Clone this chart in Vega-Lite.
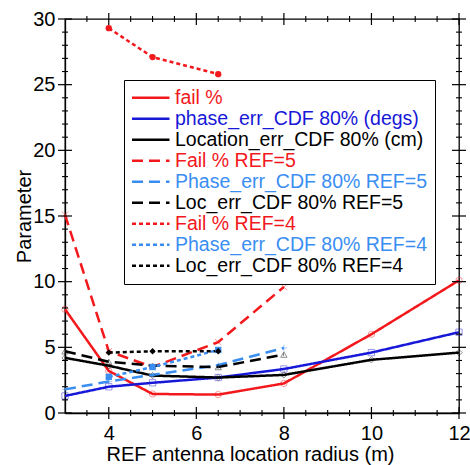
{
  "$schema": "https://vega.github.io/schema/vega-lite/v6.json",
  "width": 394,
  "height": 394,
  "autosize": "none",
  "padding": {"left": 65, "top": 19, "right": 11, "bottom": 52},
  "background": "white",
  "config": {
    "font": "Liberation Sans",
    "view": {"stroke": "black", "strokeWidth": 1.3},
    "axis": {
      "grid": false,
      "ticks": false,
      "domainColor": "black",
      "domainWidth": 1.3,
      "labelColor": "black",
      "labelFont": "Liberation Sans",
      "labelFontSize": 20,
      "titleFont": "Liberation Sans",
      "titleFontSize": 20,
      "titleFontWeight": "normal",
      "titleColor": "black"
    },
    "legend": {
      "labelFont": "Liberation Sans",
      "labelFontSize": 19.5
    }
  },
  "datasets": {
    "series": [
      {"series": "fail %", "x": 3, "y": 7.9},
      {"series": "fail %", "x": 4, "y": 3.2},
      {"series": "fail %", "x": 5, "y": 1.45},
      {"series": "fail %", "x": 6.5, "y": 1.4},
      {"series": "fail %", "x": 8, "y": 2.25},
      {"series": "fail %", "x": 10, "y": 6.0},
      {"series": "fail %", "x": 12, "y": 10.1},
      {"series": "phase_err_CDF 80% (degs)", "x": 3, "y": 1.3},
      {"series": "phase_err_CDF 80% (degs)", "x": 4, "y": 2.0},
      {"series": "phase_err_CDF 80% (degs)", "x": 5, "y": 2.3},
      {"series": "phase_err_CDF 80% (degs)", "x": 6.5, "y": 2.7},
      {"series": "phase_err_CDF 80% (degs)", "x": 8, "y": 3.35},
      {"series": "phase_err_CDF 80% (degs)", "x": 10, "y": 4.6},
      {"series": "phase_err_CDF 80% (degs)", "x": 12, "y": 6.15},
      {"series": "Location_err_CDF 80% (cm)", "x": 3, "y": 4.2},
      {"series": "Location_err_CDF 80% (cm)", "x": 4, "y": 3.6},
      {"series": "Location_err_CDF 80% (cm)", "x": 5, "y": 2.85},
      {"series": "Location_err_CDF 80% (cm)", "x": 6.5, "y": 2.7},
      {"series": "Location_err_CDF 80% (cm)", "x": 8, "y": 2.9},
      {"series": "Location_err_CDF 80% (cm)", "x": 10, "y": 4.05},
      {"series": "Location_err_CDF 80% (cm)", "x": 12, "y": 4.6},
      {"series": "Fail % REF=5", "x": 3, "y": 15.1},
      {"series": "Fail % REF=5", "x": 4, "y": 4.7},
      {"series": "Fail % REF=5", "x": 5, "y": 3.5},
      {"series": "Fail % REF=5", "x": 6.5, "y": 5.4},
      {"series": "Fail % REF=5", "x": 8, "y": 9.6},
      {"series": "Phase_err_CDF 80% REF=5", "x": 3, "y": 1.8},
      {"series": "Phase_err_CDF 80% REF=5", "x": 4, "y": 2.4},
      {"series": "Phase_err_CDF 80% REF=5", "x": 5, "y": 2.9},
      {"series": "Phase_err_CDF 80% REF=5", "x": 6.5, "y": 3.65},
      {"series": "Phase_err_CDF 80% REF=5", "x": 8, "y": 4.95},
      {"series": "Loc_err_CDF 80% REF=5", "x": 3, "y": 4.7},
      {"series": "Loc_err_CDF 80% REF=5", "x": 4, "y": 3.9},
      {"series": "Loc_err_CDF 80% REF=5", "x": 5, "y": 3.6},
      {"series": "Loc_err_CDF 80% REF=5", "x": 6.5, "y": 3.5},
      {"series": "Loc_err_CDF 80% REF=5", "x": 8, "y": 4.45},
      {"series": "Fail % REF=4", "x": 4, "y": 29.3},
      {"series": "Fail % REF=4", "x": 5, "y": 27.1},
      {"series": "Fail % REF=4", "x": 6.5, "y": 25.8},
      {"series": "Phase_err_CDF 80% REF=4", "x": 4, "y": 2.75},
      {"series": "Phase_err_CDF 80% REF=4", "x": 5, "y": 3.5},
      {"series": "Phase_err_CDF 80% REF=4", "x": 6.5, "y": 4.8},
      {"series": "Loc_err_CDF 80% REF=4", "x": 4, "y": 4.6},
      {"series": "Loc_err_CDF 80% REF=4", "x": 5, "y": 4.7},
      {"series": "Loc_err_CDF 80% REF=4", "x": 6.5, "y": 4.7}
    ],
    "xmajor": [{"v": 4}, {"v": 6}, {"v": 8}, {"v": 10}, {"v": 12}],
    "xminor": [{"v": 3.5}, {"v": 4.5}, {"v": 5}, {"v": 5.5}, {"v": 6.5}, {"v": 7}, {"v": 7.5}, {"v": 8.5}, {"v": 9}, {"v": 9.5}, {"v": 10.5}, {"v": 11}, {"v": 11.5}],
    "ymajor": [{"v": 0}, {"v": 5}, {"v": 10}, {"v": 15}, {"v": 20}, {"v": 25}, {"v": 30}],
    "yminor": [{"v": 1}, {"v": 2}, {"v": 3}, {"v": 4}, {"v": 6}, {"v": 7}, {"v": 8}, {"v": 9}, {"v": 11}, {"v": 12}, {"v": 13}, {"v": 14}, {"v": 16}, {"v": 17}, {"v": 18}, {"v": 19}, {"v": 21}, {"v": 22}, {"v": 23}, {"v": 24}, {"v": 26}, {"v": 27}, {"v": 28}, {"v": 29}]
  },
  "layer": [
    {
      "data": {"name": "series"},
      "mark": {"type": "line", "strokeWidth": 2.5},
      "encoding": {
        "x": {
          "field": "x", "type": "quantitative",
          "scale": {"domain": [3, 12], "nice": false, "zero": false},
          "axis": {"orient": "bottom", "title": "REF antenna location radius (m)", "values": [4, 6, 8, 10, 12], "format": "d", "labelPadding": 10, "labelFlush": false, "titlePadding": 1, "titleX": 185}
        },
        "y": {
          "field": "y", "type": "quantitative",
          "scale": {"domain": [0, 30], "nice": false},
          "axis": {"orient": "left", "title": "Parameter", "values": [0, 5, 10, 15, 20, 25, 30], "format": "d", "labelPadding": 10, "labelFlush": false, "titleBaseline": "alphabetic", "titleX": -35}
        },
        "color": {
          "field": "series", "type": "nominal",
          "scale": {
            "domain": ["fail %", "phase_err_CDF 80% (degs)", "Location_err_CDF 80% (cm)", "Fail % REF=5", "Phase_err_CDF 80% REF=5", "Loc_err_CDF 80% REF=5", "Fail % REF=4", "Phase_err_CDF 80% REF=4", "Loc_err_CDF 80% REF=4"],
            "range": ["#f2181c", "#1818d8", "#000000", "#f2181c", "#3a8ef2", "#000000", "#f2181c", "#3a8ef2", "#000000"]
          },
          "legend": {
            "title": null,
            "orient": "none",
            "legendX": 59,
            "legendY": 61,
            "padding": 8,
            "strokeColor": "black",
            "fillColor": "white",
            "symbolType": "M-2.5,0L2.5,0",
            "symbolSize": 225,
            "symbolOffset": 9,
            "symbolStrokeWidth": 2.5,
            "labelOffset": 14.5,
            "rowPadding": 0,
            "labelLimit": 400,
            "encode": {
              "labels": {"update": {"fill": {"signal": "scale('color', datum.value)"}}}
            }
          }
        },
        "strokeDash": {
          "field": "series", "type": "nominal",
          "scale": {
            "domain": ["fail %", "phase_err_CDF 80% (degs)", "Location_err_CDF 80% (cm)", "Fail % REF=5", "Phase_err_CDF 80% REF=5", "Loc_err_CDF 80% REF=5", "Fail % REF=4", "Phase_err_CDF 80% REF=4", "Loc_err_CDF 80% REF=4"],
            "range": [[1, 0], [1, 0], [1, 0], [11, 6], [11, 6], [11, 6], [4, 3], [4, 3], [4, 3]]
          },
          "legend": {
            "title": null,
            "orient": "none",
            "legendX": 59,
            "legendY": 61,
            "padding": 8,
            "strokeColor": "black",
            "fillColor": "white",
            "symbolType": "M-2.5,0L2.5,0",
            "symbolSize": 225,
            "symbolOffset": 9,
            "symbolStrokeWidth": 2.5,
            "labelOffset": 14.5,
            "rowPadding": 0,
            "labelLimit": 400,
            "encode": {
              "labels": {"update": {"fill": {"signal": "scale('color', datum.value)"}}}
            }
          }
        }
      }
    },
    {
      "data": {"name": "series"},
      "transform": [{"filter": "indexof(datum.series, 'REF=4') < 0"}],
      "mark": {"type": "point", "filled": false, "strokeWidth": 1, "opacity": 0.45, "size": 40},
      "encoding": {
        "x": {"field": "x", "type": "quantitative", "scale": {"domain": [3, 12], "nice": false, "zero": false},
          "axis": {"orient": "bottom", "title": "REF antenna location radius (m)", "values": [4, 6, 8, 10, 12], "format": "d", "labelPadding": 10, "labelFlush": false, "titlePadding": 1, "titleX": 185}},
        "y": {"field": "y", "type": "quantitative", "scale": {"domain": [0, 30], "nice": false},
          "axis": {"orient": "left", "title": "Parameter", "values": [0, 5, 10, 15, 20, 25, 30], "format": "d", "labelPadding": 10, "labelFlush": false, "titleBaseline": "alphabetic", "titleX": -35}},
        "shape": {
          "field": "series", "type": "nominal",
          "scale": {
            "domain": ["Loc_err_CDF 80% REF=4", "Phase_err_CDF 80% REF=4", "Fail % REF=4", "Loc_err_CDF 80% REF=5", "Phase_err_CDF 80% REF=5", "Fail % REF=5", "Location_err_CDF 80% (cm)", "phase_err_CDF 80% (degs)", "fail %"],
            "range": ["diamond", "square", "circle", "triangle-up", "M-1,0L1,0M0,-1L0,1", "M-1,-1L1,1M-1,1L1,-1", "diamond", "square", "circle"]
          },
          "legend": null
        },
        "stroke": {
          "field": "series", "type": "nominal",
          "scale": {
            "domain": ["phase_err_CDF 80% (degs)", "fail %", "Location_err_CDF 80% (cm)", "Fail % REF=5", "Phase_err_CDF 80% REF=5", "Loc_err_CDF 80% REF=5"],
            "range": ["#1818d8", "#f2181c", "#000000", "#f2181c", "#3a8ef2", "#000000"]
          },
          "legend": null
        }
      }
    },
    {
      "data": {"name": "series"},
      "transform": [{"filter": "indexof(datum.series, 'REF=4') >= 0"}],
      "mark": {"type": "point", "filled": true, "opacity": 1, "size": 40},
      "encoding": {
        "x": {"field": "x", "type": "quantitative", "scale": {"domain": [3, 12], "nice": false, "zero": false},
          "axis": {"orient": "bottom", "title": "REF antenna location radius (m)", "values": [4, 6, 8, 10, 12], "format": "d", "labelPadding": 10, "labelFlush": false, "titlePadding": 1, "titleX": 185}},
        "y": {"field": "y", "type": "quantitative", "scale": {"domain": [0, 30], "nice": false},
          "axis": {"orient": "left", "title": "Parameter", "values": [0, 5, 10, 15, 20, 25, 30], "format": "d", "labelPadding": 10, "labelFlush": false, "titleBaseline": "alphabetic", "titleX": -35}},
        "shape": {"field": "series", "type": "nominal", "legend": null},
        "fill": {
          "field": "series", "type": "nominal",
          "scale": {
            "domain": ["Fail % REF=4", "Phase_err_CDF 80% REF=4", "Loc_err_CDF 80% REF=4"],
            "range": ["#f2181c", "#3a8ef2", "#000000"]
          },
          "legend": null
        }
      }
    },
    {
      "data": {"name": "xmajor"},
      "mark": {"type": "tick", "orient": "vertical", "size": 12, "thickness": 1.2, "color": "black", "opacity": 1},
      "encoding": {
        "x": {"field": "v", "type": "quantitative", "scale": {"domain": [3, 12], "nice": false, "zero": false},
          "axis": {"orient": "bottom", "title": "REF antenna location radius (m)", "values": [4, 6, 8, 10, 12], "format": "d", "labelPadding": 10, "labelFlush": false, "titlePadding": 1, "titleX": 185}},
        "y": {"datum": 0, "type": "quantitative", "scale": {"domain": [0, 30], "nice": false},
          "axis": {"orient": "left", "title": "Parameter", "values": [0, 5, 10, 15, 20, 25, 30], "format": "d", "labelPadding": 10, "labelFlush": false, "titleBaseline": "alphabetic", "titleX": -35}}
      }
    },
    {
      "data": {"name": "xmajor"},
      "mark": {"type": "tick", "orient": "vertical", "size": 12, "thickness": 1.2, "color": "black", "opacity": 1},
      "encoding": {
        "x": {"field": "v", "type": "quantitative", "scale": {"domain": [3, 12], "nice": false, "zero": false},
          "axis": {"orient": "bottom", "title": "REF antenna location radius (m)", "values": [4, 6, 8, 10, 12], "format": "d", "labelPadding": 10, "labelFlush": false, "titlePadding": 1, "titleX": 185}},
        "y": {"datum": 30, "type": "quantitative", "scale": {"domain": [0, 30], "nice": false},
          "axis": {"orient": "left", "title": "Parameter", "values": [0, 5, 10, 15, 20, 25, 30], "format": "d", "labelPadding": 10, "labelFlush": false, "titleBaseline": "alphabetic", "titleX": -35}}
      }
    },
    {
      "data": {"name": "xminor"},
      "mark": {"type": "tick", "orient": "vertical", "size": 6, "thickness": 1.1, "color": "black", "opacity": 1},
      "encoding": {
        "x": {"field": "v", "type": "quantitative", "scale": {"domain": [3, 12], "nice": false, "zero": false},
          "axis": {"orient": "bottom", "title": "REF antenna location radius (m)", "values": [4, 6, 8, 10, 12], "format": "d", "labelPadding": 10, "labelFlush": false, "titlePadding": 1, "titleX": 185}},
        "y": {"datum": 0, "type": "quantitative", "scale": {"domain": [0, 30], "nice": false},
          "axis": {"orient": "left", "title": "Parameter", "values": [0, 5, 10, 15, 20, 25, 30], "format": "d", "labelPadding": 10, "labelFlush": false, "titleBaseline": "alphabetic", "titleX": -35}}
      }
    },
    {
      "data": {"name": "xminor"},
      "mark": {"type": "tick", "orient": "vertical", "size": 6, "thickness": 1.1, "color": "black", "opacity": 1},
      "encoding": {
        "x": {"field": "v", "type": "quantitative", "scale": {"domain": [3, 12], "nice": false, "zero": false},
          "axis": {"orient": "bottom", "title": "REF antenna location radius (m)", "values": [4, 6, 8, 10, 12], "format": "d", "labelPadding": 10, "labelFlush": false, "titlePadding": 1, "titleX": 185}},
        "y": {"datum": 30, "type": "quantitative", "scale": {"domain": [0, 30], "nice": false},
          "axis": {"orient": "left", "title": "Parameter", "values": [0, 5, 10, 15, 20, 25, 30], "format": "d", "labelPadding": 10, "labelFlush": false, "titleBaseline": "alphabetic", "titleX": -35}}
      }
    },
    {
      "data": {"name": "ymajor"},
      "mark": {"type": "tick", "orient": "horizontal", "size": 14, "thickness": 1.2, "color": "black", "opacity": 1},
      "encoding": {
        "y": {"field": "v", "type": "quantitative", "scale": {"domain": [0, 30], "nice": false},
          "axis": {"orient": "left", "title": "Parameter", "values": [0, 5, 10, 15, 20, 25, 30], "format": "d", "labelPadding": 10, "labelFlush": false, "titleBaseline": "alphabetic", "titleX": -35}},
        "x": {"datum": 3, "type": "quantitative", "scale": {"domain": [3, 12], "nice": false, "zero": false},
          "axis": {"orient": "bottom", "title": "REF antenna location radius (m)", "values": [4, 6, 8, 10, 12], "format": "d", "labelPadding": 10, "labelFlush": false, "titlePadding": 1, "titleX": 185}}
      }
    },
    {
      "data": {"name": "ymajor"},
      "mark": {"type": "tick", "orient": "horizontal", "size": 14, "thickness": 1.2, "color": "black", "opacity": 1},
      "encoding": {
        "y": {"field": "v", "type": "quantitative", "scale": {"domain": [0, 30], "nice": false},
          "axis": {"orient": "left", "title": "Parameter", "values": [0, 5, 10, 15, 20, 25, 30], "format": "d", "labelPadding": 10, "labelFlush": false, "titleBaseline": "alphabetic", "titleX": -35}},
        "x": {"datum": 12, "type": "quantitative", "scale": {"domain": [3, 12], "nice": false, "zero": false},
          "axis": {"orient": "bottom", "title": "REF antenna location radius (m)", "values": [4, 6, 8, 10, 12], "format": "d", "labelPadding": 10, "labelFlush": false, "titlePadding": 1, "titleX": 185}}
      }
    },
    {
      "data": {"name": "yminor"},
      "mark": {"type": "tick", "orient": "horizontal", "size": 6, "thickness": 1.1, "color": "black", "opacity": 1},
      "encoding": {
        "y": {"field": "v", "type": "quantitative", "scale": {"domain": [0, 30], "nice": false},
          "axis": {"orient": "left", "title": "Parameter", "values": [0, 5, 10, 15, 20, 25, 30], "format": "d", "labelPadding": 10, "labelFlush": false, "titleBaseline": "alphabetic", "titleX": -35}},
        "x": {"datum": 3, "type": "quantitative", "scale": {"domain": [3, 12], "nice": false, "zero": false},
          "axis": {"orient": "bottom", "title": "REF antenna location radius (m)", "values": [4, 6, 8, 10, 12], "format": "d", "labelPadding": 10, "labelFlush": false, "titlePadding": 1, "titleX": 185}}
      }
    },
    {
      "data": {"name": "yminor"},
      "mark": {"type": "tick", "orient": "horizontal", "size": 6, "thickness": 1.1, "color": "black", "opacity": 1},
      "encoding": {
        "y": {"field": "v", "type": "quantitative", "scale": {"domain": [0, 30], "nice": false},
          "axis": {"orient": "left", "title": "Parameter", "values": [0, 5, 10, 15, 20, 25, 30], "format": "d", "labelPadding": 10, "labelFlush": false, "titleBaseline": "alphabetic", "titleX": -35}},
        "x": {"datum": 12, "type": "quantitative", "scale": {"domain": [3, 12], "nice": false, "zero": false},
          "axis": {"orient": "bottom", "title": "REF antenna location radius (m)", "values": [4, 6, 8, 10, 12], "format": "d", "labelPadding": 10, "labelFlush": false, "titlePadding": 1, "titleX": 185}}
      }
    }
  ]
}
